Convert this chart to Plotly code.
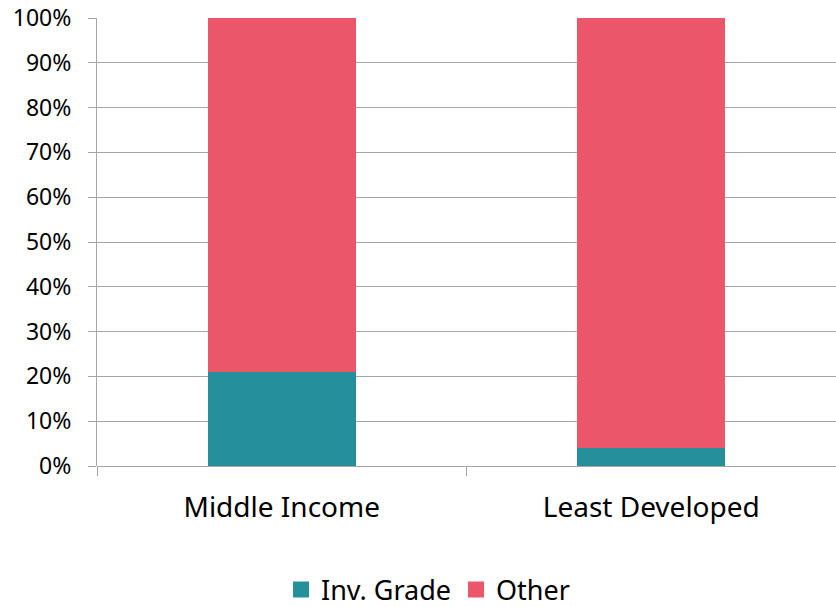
import plotly.graph_objects as go

categories = ["Middle Income", "Least Developed"]
inv_grade = [0.21, 0.04]
other = [0.79, 0.96]
y_ticks = [0, 0.1, 0.2, 0.3, 0.4, 0.5, 0.6, 0.7, 0.8, 0.9, 1.0]
y_tick_labels = ["0%", "10%", "20%", "30%", "40%", "50%", "60%", "70%", "80%", "90%", "100%"]
series_names = ["Inv. Grade", "Other"]

TEAL = "#268F9C"
RED = "#EC566B"
GRID = "#A6A6A6"
FONT = "Noto Sans, Open Sans, sans-serif"
colors = [TEAL, RED]

fig = go.Figure()
for name, values, color in zip(series_names, [inv_grade, other], colors):
    fig.add_trace(go.Bar(x=categories, y=values, name=name, showlegend=False,
                         legendgroup=name,
                         marker=dict(color=color, line=dict(width=0))))

# legend keys drawn as larger square markers
for name, color in zip(series_names, colors):
    fig.add_trace(go.Scatter(x=[None], y=[None], mode="markers", name=name,
                             legendgroup=name,
                             marker=dict(symbol="square", size=17, color=color,
                                         line=dict(width=0))))

fig.update_layout(
    barmode="stack",
    bargap=0.6,
    width=836, height=607,
    margin=dict(l=97, r=0, t=18, b=141),
    paper_bgcolor="white", plot_bgcolor="white",
    font=dict(family=FONT, color="#000000"),
    showlegend=True,
    legend=dict(orientation="h", x=0.512, xanchor="center", xref="container",
                y=0.028, yanchor="middle", yref="container",
                font=dict(size=27, family=FONT), itemwidth=30,
                traceorder="normal"),
    xaxis=dict(
        type="category",
        showgrid=False,
        ticks="outside", tickson="boundaries", ticklen=9, tickcolor=GRID,
        tickfont=dict(size=28, family=FONT),
        showline=False,
        ticklabelstandoff=22,
    ),
    yaxis=dict(
        range=[0, 1],
        tickvals=y_ticks, ticktext=y_tick_labels,
        showgrid=True, gridcolor=GRID, gridwidth=1,
        ticks="outside", ticklen=8, tickcolor=GRID,
        showline=True, linecolor=GRID, linewidth=1,
        zeroline=True, zerolinecolor=GRID, zerolinewidth=1,
        tickfont=dict(size=23, family=FONT),
        ticklabelstandoff=12,
    ),
)

fig.write_html("out.html")
